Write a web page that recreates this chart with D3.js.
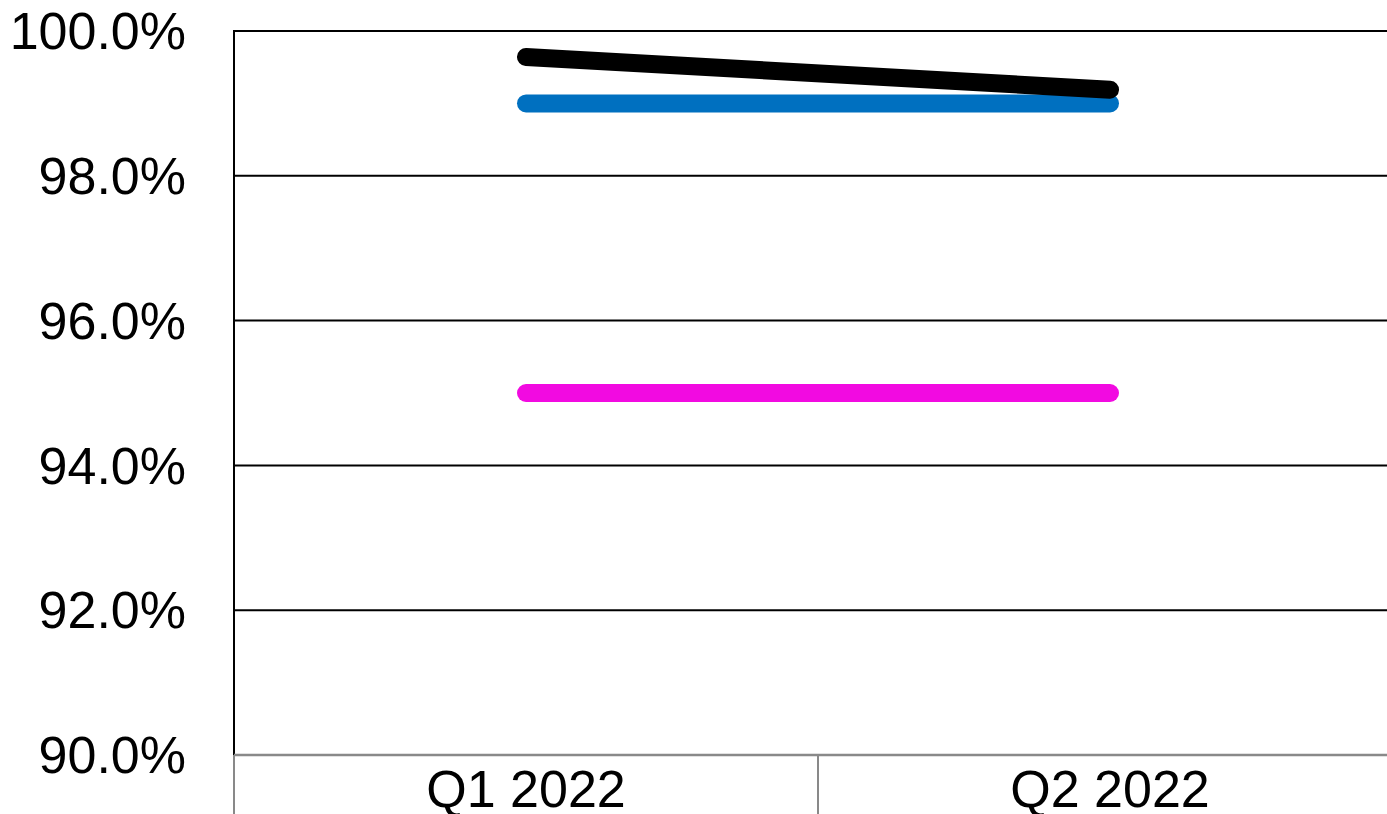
<!doctype html>
<html>
  <head>
    <script src="https://cdnjs.cloudflare.com/ajax/libs/d3/7.8.5/d3.min.js"></script>
    <style>
      body { margin: 0; background: #fff; }
      svg { display: block; font-family: "Liberation Sans", Arial, sans-serif; }
      line.grid { stroke: #000; stroke-width: 2; }
      path.series { fill: none; stroke-width: 18; stroke-linecap: round; stroke-linejoin: round; }
    </style>
  </head>
  <body>
    <svg width="1387" height="814"></svg>
    <script>
      var quarters = ["Q1 2022", "Q2 2022"];
      var actual = [0.9964, 0.9919];
      var target = [0.990, 0.990];
      var minimum = [0.950, 0.950];
      var yTicks = [0.90, 0.92, 0.94, 0.96, 0.98, 1.00];

      var series = [
        { name: "minimum", values: minimum, color: "#F20AE1" },
        { name: "target", values: target, color: "#0070C0" },
        { name: "actual", values: actual, color: "#000000" }
      ];

      var svg = d3.select("svg");
      var plotLeft = 234, plotTop = 31, plotBottom = 755;

      var x = d3.scaleBand()
        .domain(quarters)
        .range([plotLeft, plotLeft + 584 * 2]);

      var y = d3.scaleLinear()
        .domain([0.90, 1.00])
        .range([plotBottom, plotTop]);

      var fmt = d3.format(".1%");

      // horizontal gridlines
      svg.selectAll("line.grid").data(yTicks.filter(d => d > 0.9))
        .enter()
        .append("line")
          .attr("class", "grid")
          .attr("x1", plotLeft)
          .attr("x2", 1387)
          .attr("y1", d => y(d))
          .attr("y2", d => y(d));

      // y labels
      svg.selectAll("text.ylab").data(yTicks)
        .enter()
        .append("text")
          .attr("class", "ylab")
          .attr("x", 186)
          .attr("y", d => y(d))
          .attr("dy", "0.35em")
          .attr("text-anchor", "end")
          .style("font-size", "52px")
          .text(d => fmt(d));

      // value axis line
      svg.append("line")
          .attr("x1", plotLeft).attr("x2", plotLeft)
          .attr("y1", plotTop - 1).attr("y2", plotBottom)
          .style("stroke", "#000").style("stroke-width", 2);

      // category axis
      svg.append("line")
          .attr("x1", plotLeft).attr("x2", 1387)
          .attr("y1", plotBottom).attr("y2", plotBottom)
          .style("stroke", "#898989").style("stroke-width", 2.5);

      var seps = quarters.map(q => x(q)).concat([x(quarters[quarters.length - 1]) + x.bandwidth()]);
      svg.selectAll("line.sep").data(seps)
        .enter()
        .append("line")
          .attr("class", "sep")
          .attr("x1", d => d).attr("x2", d => d)
          .attr("y1", plotBottom).attr("y2", 814)
          .style("stroke", "#898989").style("stroke-width", 2);

      svg.selectAll("text.xlab").data(quarters)
        .enter()
        .append("text")
          .attr("class", "xlab")
          .attr("x", d => x(d) + x.bandwidth() / 2)
          .attr("y", 807)
          .attr("text-anchor", "middle")
          .style("font-size", "52px")
          .text(d => d);

      var line = d3.line()
        .x((d, i) => x(quarters[i]) + x.bandwidth() / 2)
        .y(d => y(d));

      svg.selectAll("path.series").data(series)
        .enter()
        .append("path")
          .attr("class", "series")
          .attr("d", d => line(d.values))
          .style("stroke", d => d.color);
    </script>
  </body>
</html>
